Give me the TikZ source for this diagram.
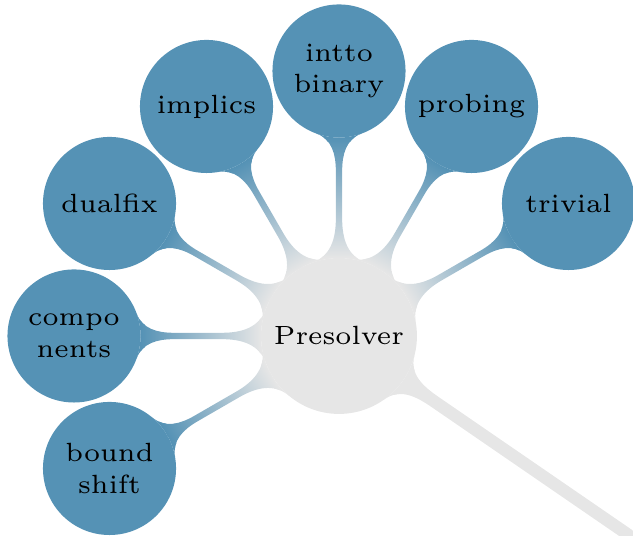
\documentclass[tikz,border=0pt]{standalone}
\usetikzlibrary{mindmap,backgrounds}
\definecolor{cblue}{RGB}{85,146,181}
\definecolor{cgray}{RGB}{230,230,230}
\def\barampl{1.45pt}
\makeatletter
\def\tikz@compute@segmentamplitude{\edef\pgfdecorationsegmentamplitude{\barampl}}
\makeatother
\begin{document}
\begin{tikzpicture}[x=0.2277pt,y=0.2277pt,font=\fontsize{6}{7.2}\selectfont,
  presnode/.style={circle,fill=cgray,minimum size=35.5pt,inner sep=0pt,outer sep=0pt,align=center},
  subnode/.style={circle,fill=cblue,minimum size=30.3pt,inner sep=0pt,outer sep=0pt,align=center},
  subbar/.style={/utils/exec={\def\barampl{1.45pt}},circle connection bar switch color=from (cgray) to (cblue)},
  upbar/.style={/utils/exec={\def\barampl{2.8pt}},circle connection bar switch color=from (cgray) to (cgray)}]
\useasboundingbox (0,0) rectangle (633,536);
\clip (0,0) rectangle (633,536);
\node[presnode] (pres) at (339,200) {Presolver};
\node[subnode] (triv) at ([shift={(30:265)}]pres) {trivial};
\node[subnode] (prob) at ([shift={(60:265)}]pres) {probing};
\node[subnode] (intt) at ([shift={(90:265)}]pres) {intto\\binary};
\node[subnode] (impl) at ([shift={(120:265)}]pres) {implics};
\node[subnode] (dual) at ([shift={(150:265)}]pres) {dualfix};
\node[subnode] (comp) at ([shift={(180:265)}]pres) {compo\\nents};
\node[subnode] (bnds) at ([shift={(210:265)}]pres) {bound\\shift};
\coordinate (up) at ([shift={(-34.5:600)}]pres);
\begin{scope}[on background layer]
\path (pres) to[subbar] (triv);
\path (pres) to[subbar] (prob);
\path (pres) to[subbar] (intt);
\path (pres) to[subbar] (impl);
\path (pres) to[subbar] (dual);
\path (pres) to[subbar] (comp);
\path (pres) to[subbar] (bnds);
\path (pres) to[upbar] (up);
\end{scope}
\end{tikzpicture}
\end{document}
